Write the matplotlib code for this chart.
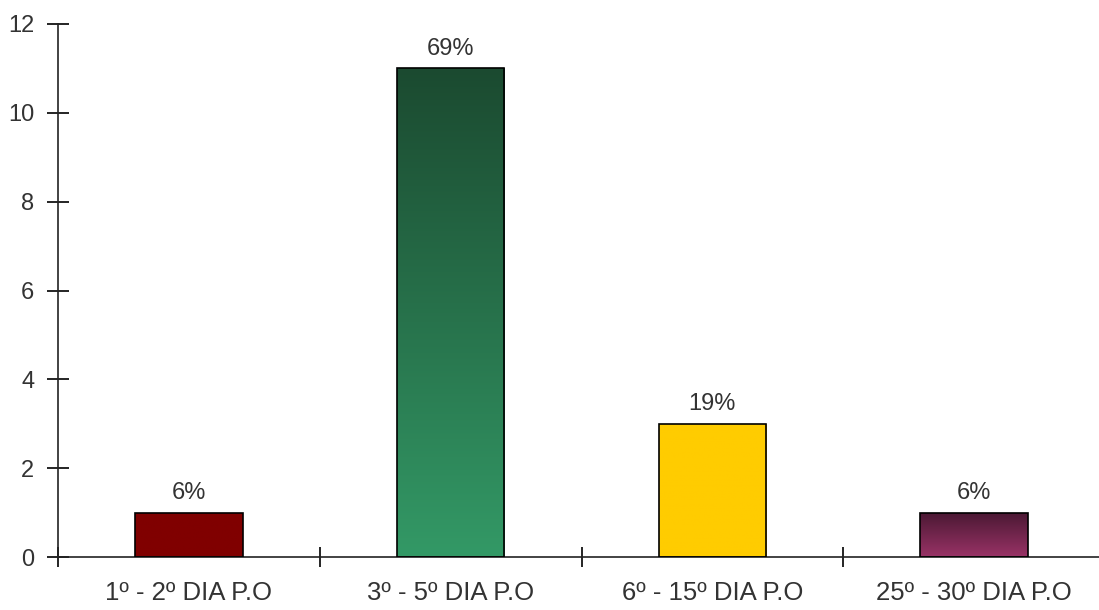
import numpy as np
import matplotlib.pyplot as plt
from matplotlib.colors import LinearSegmentedColormap

plt.rcParams['font.family'] = ['Liberation Sans', 'DejaVu Sans']

categories = ['1º - 2º DIA P.O', '3º - 5º DIA P.O', '6º - 15º DIA P.O', '25º - 30º DIA P.O']
counts = [1, 11, 3, 1]
pct_labels = ['6%', '69%', '19%', '6%']
# (top colour, bottom colour) for each bar
bar_colors = [('#800000', '#800000'), ('#1b4a30', '#339966'),
              ('#ffcc00', '#ffcc00'), ('#4a1833', '#993366')]

fig = plt.figure(figsize=(10.99, 6.10), dpi=100)
ax = fig.add_axes([58 / 1099, 53 / 610, 1047 / 1099, 533 / 610])

x = np.arange(len(categories))
width = 0.41
bars = ax.bar(x, counts, width, color='none', edgecolor='black', linewidth=1.2, zorder=3)

grad = np.linspace(0, 1, 256).reshape(-1, 1)
for bar, (top, bottom) in zip(bars, bar_colors):
    x0, w, h = bar.get_x(), bar.get_width(), bar.get_height()
    cmap = LinearSegmentedColormap.from_list('g', [bottom, top])
    im = ax.imshow(grad, cmap=cmap, aspect='auto', origin='lower',
                   extent=[x0, x0 + w, 0, h], zorder=2)
    im.set_clip_path(bar)

for xi, v, lab in zip(x, counts, pct_labels):
    ax.text(xi, v + 0.3, lab, ha='center', va='baseline', fontsize=17, color='#333333')

ax.set_xlim(-0.5, 3.5)
ax.set_ylim(0, 12)
ax.set_yticks(range(0, 13, 2))
ax.set_xticks(x)
ax.set_xticklabels(categories, color='#333333')
ax.set_xticks(np.arange(-0.5, 3.6, 1), minor=True)
ax.tick_params(axis='x', which='major', length=0, pad=17, labelsize=18.5)
ax.tick_params(axis='x', which='minor', direction='inout', length=14, width=1.2)
ax.tick_params(axis='y', direction='inout', length=16, width=1.2, labelsize=17,
               pad=9, labelcolor='#333333')

for s in ['top', 'right']:
    ax.spines[s].set_visible(False)
for s in ['left', 'bottom']:
    ax.spines[s].set_linewidth(1.2)
    ax.spines[s].set_color('#222222')

fig.savefig('out.png', dpi=100)
